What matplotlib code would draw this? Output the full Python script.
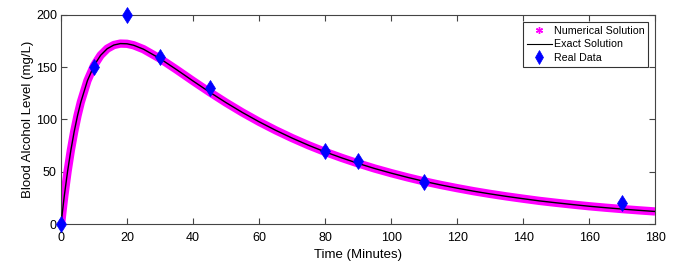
import matplotlib
matplotlib.use("Agg")
import matplotlib.pyplot as plt
from matplotlib.lines import Line2D

plt.rcParams['font.family'] = ['Liberation Sans', 'DejaVu Sans']

# curve (minutes, mg/L)
t_curve = [0, 1, 2, 3, 4, 5, 6, 8, 10, 12, 14, 16, 18, 20, 22, 25, 30, 35, 40,
           45, 50, 55, 60, 65, 70, 75, 80, 85, 90, 95, 100, 105, 110, 115, 120,
           125, 130, 135, 140, 145, 150, 155, 160, 165, 170, 175, 180]
c_curve = [0, 27.1, 50.6, 70.9, 88.5, 103.7, 116.6, 137.1, 151.6, 161.4, 167.7,
           171.2, 172.6, 172.4, 171.0, 167.2, 158.2, 147.7, 136.8, 126.2, 116.1,
           106.6, 97.8, 89.7, 82.2, 75.3, 69.0, 63.3, 58.0, 53.1, 48.7, 44.6,
           40.8, 37.4, 34.3, 31.4, 28.8, 26.4, 24.2, 22.1, 20.3, 18.6, 17.0,
           15.6, 14.3, 13.1, 12.0]

# measured points
t_data = [0, 10, 20, 30, 45, 80, 90, 110, 170]
c_data = [0, 150, 200, 160, 130, 70, 60, 40, 20]

fig = plt.figure(figsize=(6.81, 2.62), dpi=100)
ax = fig.add_axes([0.0896, 0.145, 0.8724, 0.798])

ax.plot(t_curve, c_curve, color='#ff00ff', lw=6, solid_capstyle='butt', zorder=2)
ax.plot(t_curve, c_curve, color='black', lw=1.0, zorder=3)
ax.plot(t_data, c_data, ls='none', marker='d', ms=8, mew=0.5, color='#0000ff',
        zorder=4, clip_on=False)

ax.set_xlim(0, 180)
ax.set_ylim(0, 200)
ax.set_xticks(range(0, 181, 20))
ax.set_yticks(range(0, 201, 50))
ax.tick_params(direction='in', length=4, top=True, right=True, labelsize=9,
               color='#444444')
ax.tick_params(axis='x', pad=6)
ax.tick_params(axis='y', pad=3)
for s in ax.spines.values():
    s.set_color('#444444')
    s.set_linewidth(0.8)

ax.set_xlabel('Time (Minutes)', fontsize=9.5, labelpad=3)
ax.set_ylabel('Blood Alcohol Level (mg/L)', fontsize=9.5, labelpad=1)

handles = [
    Line2D([], [], ls='none', marker=(6, 2, 0), ms=5, mew=1, color='#ff00ff'),
    Line2D([], [], color='black', lw=0.8),
    Line2D([], [], ls='none', marker='d', ms=7, mew=0.5, color='#0000ff'),
]
labels = ['Numerical Solution', 'Exact Solution', 'Real Data']
leg = ax.legend(handles, labels, loc='upper right', fontsize=7.7, frameon=True,
                fancybox=False, edgecolor='black', borderpad=0.35,
                labelspacing=0.35, handlelength=2.3, handletextpad=0.2,
                borderaxespad=0.65)
leg.get_frame().set_linewidth(0.8)

fig.savefig('out.png', dpi=100)
